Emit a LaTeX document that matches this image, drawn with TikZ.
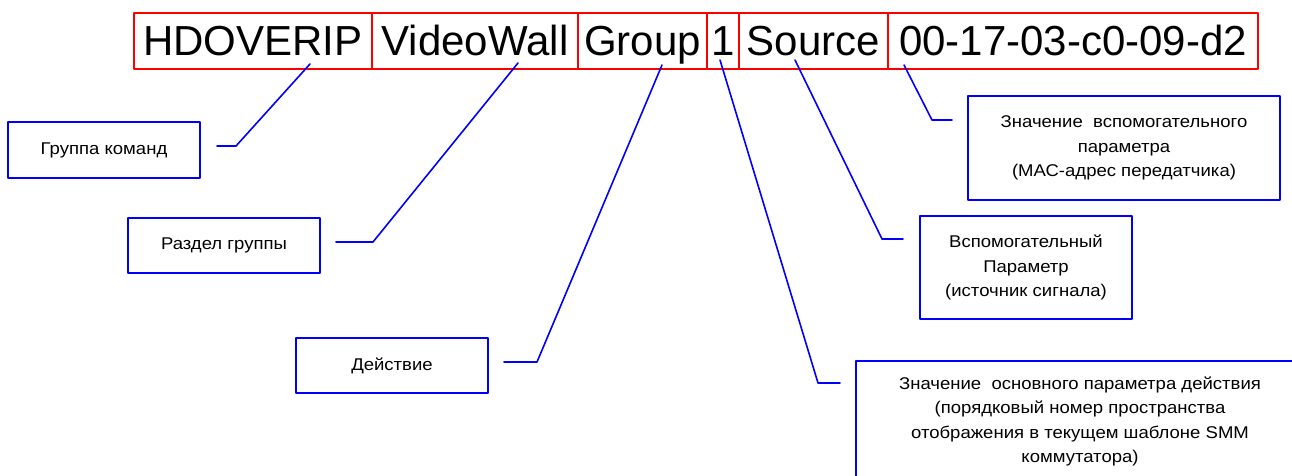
\documentclass[tikz,border=0pt]{standalone}
\usepackage{fontspec}
\setmainfont{Liberation Sans}
\newfontfamily\notefont[FakeStretch=1.09]{Liberation Sans}
\begin{document}
\begin{tikzpicture}[x=1pt, y=1pt, line join=round, line cap=round,
  word/.style={draw=red, line width=2pt, minimum height=56pt, inner xsep=2pt,
    text height=30pt, text depth=0pt, anchor=west, font=\fontsize{42}{50}\selectfont},
  note/.style={draw=blue, line width=2pt, align=center, font=\notefont\fontsize{17}{24.5}\selectfont},
  lead/.style={draw=blue, line width=1.6pt}]
\useasboundingbox (0,0) rectangle (1292,475);
% command words along the top
\foreach \n/\t/\x/\w in {hd/HDOVERIP/133/238, vw/VideoWall/371/206, grp/Group/577/129,
  one/1/706/32, src/Source/738/149, mac/00-17-03-c0-09-d2/887/370}
  \node[word, minimum width=\w pt] (\n) at (\x,434) {\t};
% explanations
\node[note, minimum width=192pt, minimum height=56pt] (cmd) at (104,325) {Группа команд};
\node[note, minimum width=192pt, minimum height=55pt] (sect) at (224,229.5) {Раздел группы};
\node[note, minimum width=192pt, minimum height=55pt] (act) at (392,109.5) {Действие};
\node[note, minimum width=312pt, minimum height=104pt] (macv) at (1124,327)
  {Значение\ \ вспомогательного\\параметра\\(МАС-адрес передатчика)};
\node[note, minimum width=212pt, minimum height=103pt] (aux) at (1026,207.5)
  {Вспомогательный\\Параметр\\(источник сигнала)};
\node[note, minimum width=448pt, minimum height=121pt] (mainv) at (1080,53.5)
  {Значение\ \ основного параметра действия\\(порядковый номер пространства\\
   отображения в текущем шаблоне SMM\\коммутатора)};
% leader lines
\foreach \w/\s/\b/\k/\c/\e in {
  hd/{(57,6)}/cmd/east/{(35,4)}/{(16,4)},
  vw/{(43,7)}/sect/east/{(52,3.5)}/{(15,3.5)},
  grp/{(19.5,5)}/act/east/{(48,3.5)}/{(15,3.5)},
  one/{(-3,10)}/mainv/north west/{(-37,-23)}/{(-15,-23)},
  src/{(-18.5,10)}/aux/north west/{(-37,-24)}/{(-16,-24)},
  mac/{(-169,5)}/macv/north west/{(-35,-25)}/{(-15,-25)}}
  \draw[lead] ([shift={\s}]\w.south) -- ([shift={\c}]\b.\k) -- ([shift={\e}]\b.\k);
\end{tikzpicture}
\end{document}
